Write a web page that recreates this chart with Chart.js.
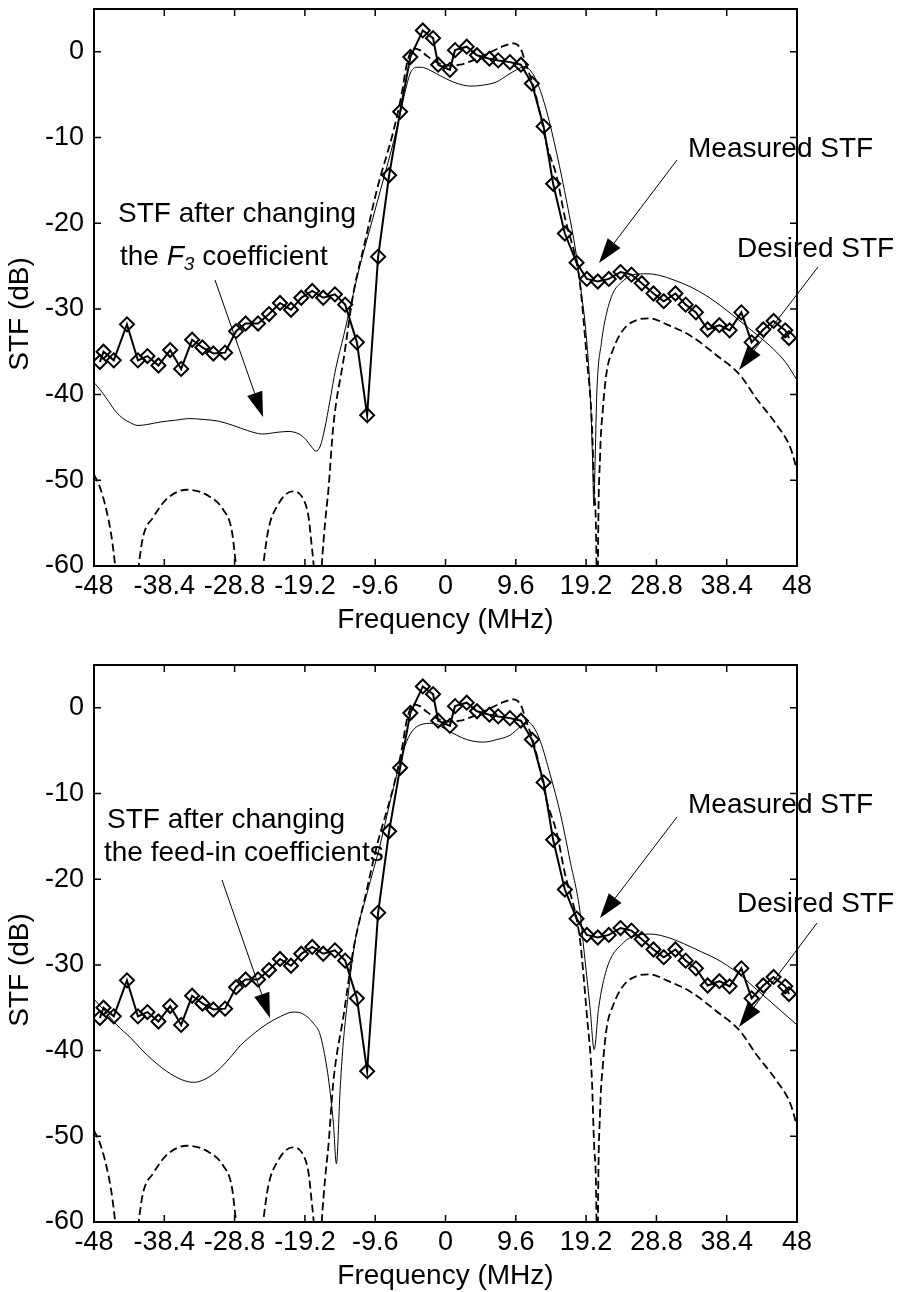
<!DOCTYPE html>
<html>
<head>
<meta charset="utf-8">
<title>STF</title>
<script src="https://cdn.jsdelivr.net/npm/chart.js@4.4.1/dist/chart.umd.min.js"></script>
<style>
  html, body { margin: 0; padding: 0; background: #fff; }
  canvas { display: block; }
</style>
</head>
<body>
<canvas id="topChart" width="902" height="656"></canvas>
<canvas id="bottomChart" width="902" height="636"></canvas>
<script>
// axis ticks
const xTickValues = [-48, -38.4, -28.8, -19.2, -9.6, 0, 9.6, 19.2, 28.8, 38.4, 48];
const xTickLabels = ['-48', '-38.4', '-28.8', '-19.2', '-9.6', '0', '9.6', '19.2', '28.8', '38.4', '48'];
const yTickValues = [-60, -50, -40, -30, -20, -10, 0];
const yTickLabels = ['-60', '-50', '-40', '-30', '-20', '-10', '0'];

// measured STF (diamonds), same in both panels
const measuredFreq = [-47.2, -46.7, -45.3, -43.5, -42.0, -40.7, -39.2, -37.6, -36.1, -34.6, -33.2, -31.7, -30.1, -28.6,
  -27.3, -25.6, -24.1, -22.6, -21.1, -19.7, -18.2, -16.7, -15.1, -13.7, -12.1, -10.7, -9.2, -7.7, -6.2, -4.8, -3.1,
  -1.7, -1.0, 0.6, 1.3, 2.9, 4.3, 6.0, 7.2, 8.8, 10.3, 11.8, 13.4, 14.7, 16.3, 17.9, 19.3, 20.8, 22.3, 23.9, 25.4,
  26.8, 28.4, 29.8, 31.4, 32.8, 34.2, 35.8, 37.4, 38.8, 40.4, 41.8, 43.4, 44.8, 46.4, 46.9];
const measuredStf = [-36.2, -35.0, -36.0, -31.8, -36.0, -35.5, -36.6, -34.8, -37.0, -33.6, -34.5, -35.2, -35.1, -32.6,
  -31.7, -31.7, -30.6, -29.3, -30.1, -28.7, -27.9, -28.7, -28.3, -29.5, -33.9, -42.4, -23.9, -14.4, -7.0, -0.6, 2.5,
  1.6, -1.5, -2.1, 0.2, 0.6, -0.4, -0.8, -1.0, -1.2, -1.5, -3.7, -8.7, -15.4, -21.2, -24.6, -26.5, -26.8, -26.5, -25.7, -26.0,
  -27.0, -28.2, -29.1, -28.2, -29.5, -30.4, -32.4, -31.9, -32.5, -30.4, -33.9, -32.4, -31.4, -32.5, -33.4];

// desired STF (dashed), same in both panels
const desiredFreq = [-48, -47.2, -46.3, -45.6, -45.1, -44.6, -43.5, -42.4, -41.9, -41.3, -39.9, -38.1, -35.3, -32.6,
  -30.3, -29.2, -28.6, -28.1, -26.8, -25.4, -24.9, -24.2, -23.05, -20.9, -19.4, -18.7, -18.3, -18.0, -17.75, -17.45,
  -17.15, -16.9, -16.45, -16.0, -15.3, -13.9, -12.6, -11.0, -9.4, -7.1, -6.0, -5.3, -4.4, -3.5, -2.5, -1.0, 0.5, 2.0,
  4.0, 6.0, 8.0, 9.3, 10.3, 11.0, 12.0, 13.0, 13.8, 15.2, 16.3, 17.9, 18.4, 19.3, 20.0, 20.3, 20.62, 20.72, 20.82,
  21.1, 21.5, 22.0, 22.9, 24.3, 26.1, 27.95, 30.2, 33.4, 37.0, 40.2, 42.4, 45.2, 47.1, 48];
const desiredStf = [-49.3, -50.8, -53.5, -56.6, -60, -64, -75, -64, -60, -56.6, -54.3, -52.2, -51.1, -51.7,
  -53.5, -55.8, -60, -64, -75, -64, -60, -55.8, -53.1, -51.3, -52.2, -54.3, -57.4, -60, -64, -80,
  -64, -60, -55, -51.2, -43.5, -35.8, -28.3, -22.2, -16.2, -9.2, -5.0, -1.5, 0.4, 0.2, -0.5, -1.3, -1.6, -1.5,
  -0.9, -0.1, 0.7, 1.0, 0.3, -1.5, -4.0, -7.5, -10.8, -14.6, -19.3, -24.6, -27.3, -35.8, -43.5, -51.2, -60, -80, -60,
  -47.4, -41.6, -37.4, -34.7, -32.4, -31.3, -31.1, -31.8, -33.1, -35.4, -37.7, -40.4, -43.5, -46.2, -48.8];

// top panel: STF after changing the F3 coefficient (thin)
const f3Freq = [-48, -47, -46, -45, -44, -43, -42, -40.8, -39, -37, -35, -33, -31, -29, -27, -25, -23, -21.5, -20, -19,
  -18.2, -17.7, -17.1, -16.5, -15.8, -15, -13.9, -12.6, -11.7, -10.75, -8.9, -7.1, -6.2, -5.5, -4.8, -4.0, -3.3, -2.0,
  -0.7, 1.0, 2.5, 3.5, 5.0, 7.0, 8.5, 9.7, 10.9, 11.7, 12.5, 13.8, 15.2, 16.6, 17.9, 18.6, 19.1, 19.75, 20.1, 20.25,
  20.45, 20.67, 21.3, 22.0, 22.9, 23.9, 25.7, 27.5, 29.3, 31.1, 33.4, 35.7, 38.0, 40.2, 42.5, 44.8, 46.5, 48];
const f3Stf = [-38.6, -39.6, -40.8, -42.0, -42.8, -43.3, -43.6, -43.5, -43.2, -43.0, -42.8, -42.9, -43.1, -43.6, -44.2,
  -44.6, -44.4, -44.3, -44.6, -45.3, -46.2, -46.6, -46.0, -44.0, -40.8, -37.0, -33.1, -28.3, -25.0, -22.0, -16.2, -10.5,
  -7.3, -4.6, -2.5, -1.8, -1.8, -2.2, -2.8, -3.5, -3.9, -4.0, -3.9, -3.5, -2.7, -2.1, -1.7, -2.3, -3.5, -6.9, -11.9,
  -17.7, -23.9, -28.5, -32.0, -39.7, -48.0, -53.0, -47.0, -39.7, -33.9, -30.5, -28.1, -27.0, -26.0, -25.9, -26.1,
  -26.6, -27.4, -28.5, -29.9, -31.4, -33.0, -34.7, -36.3, -38.3];

// bottom panel: STF after changing the feed-in coefficients (thin)
const feedFreq = [-48, -46.5, -44.9, -43, -41.7, -40, -38.1, -36, -34.4, -33, -31.2, -29.5, -28, -26, -24.4, -22.5,
  -20.8, -19.5, -18.05, -17.1, -16.2, -15.8, -15.3, -14.9, -14.4, -14.0, -13.5, -12.4, -10.7, -8.9, -7.1, -5.3, -3.5,
  -1.7, 0.2, 2.9, 5.2, 7.0, 8.8, 10.2, 11.1, 12.0, 12.95, 14.3, 15.7, 17.0, 18.4, 18.8, 19.75, 20.3, 20.9, 22.0, 24.3,
  26, 28, 30, 32.5, 35, 37, 40, 42, 44, 46, 48];
const feedStf = [-34.0, -35.4, -37.0, -38.5, -39.7, -41.1, -42.4, -43.4, -43.7, -43.4, -42.4, -40.9, -39.4, -37.9, -36.9,
  -36.0, -35.5, -35.7, -36.8, -38.2, -42.0, -44.5, -48.6, -53.2, -44.7, -39.5, -35.1, -27.5, -21.6, -15.9, -9.3, -3.9,
  -2.0, -1.8, -2.6, -3.7, -4.0, -3.7, -3.2, -2.2, -1.6, -2.2, -3.9, -7.8, -12.4, -17.8, -24.0, -27.4, -35.1, -39.9,
  -35.1, -30.5, -27.4, -26.6, -26.4, -26.7, -27.5, -28.5, -29.3, -31.0, -32.5, -34.0, -35.5, -37.0];

const FONT = "'Liberation Sans', Arial, sans-serif";

function zip(xs, ys) {
  return xs.map((x, i) => ({ x: x, y: ys[i] }));
}

function drawArrow(ctx, x1, y1, x2, y2) {
  const ang = Math.atan2(y2 - y1, x2 - x1);
  const len = 25, half = 8;
  const bx = x2 - len * Math.cos(ang);
  const by = y2 - len * Math.sin(ang);
  ctx.lineWidth = 1;
  ctx.beginPath();
  ctx.moveTo(x1, y1);
  ctx.lineTo(bx, by);
  ctx.stroke();
  ctx.beginPath();
  ctx.moveTo(x2, y2);
  ctx.lineTo(bx - half * Math.sin(ang), by + half * Math.cos(ang));
  ctx.lineTo(bx + half * Math.sin(ang), by - half * Math.cos(ang));
  ctx.closePath();
  ctx.fill();
}

// box, inward ticks, axis titles and the text notes
const framePlugin = {
  id: 'frame',
  afterDraw(chart, args, opts) {
    const { ctx, chartArea: a } = chart;
    const xs = chart.scales.x, ys = chart.scales.y;
    ctx.save();
    ctx.fillStyle = '#000';
    ctx.strokeStyle = '#000';

    // notes
    ctx.textBaseline = 'alphabetic';
    ctx.textAlign = 'left';
    (opts.texts || []).forEach(line => {
      let cx = line.x;
      line.parts.forEach(p => {
        const size = p.sub ? 19 : 28;
        ctx.font = (p.it ? 'italic ' : '') + size + 'px ' + FONT;
        ctx.fillText(p.t, cx, line.y + (p.sub ? 5 : 0));
        cx += ctx.measureText(p.t).width;
      });
    });
    (opts.arrows || []).forEach(ar => drawArrow(ctx, ar[0], ar[1], ar[2], ar[3]));

    // axis titles
    ctx.font = '28px ' + FONT;
    ctx.textAlign = 'center';
    ctx.fillText('Frequency (MHz)', (a.left + a.right) / 2, a.bottom + 62);
    ctx.save();
    ctx.translate(28, a.top + 305);
    ctx.rotate(-Math.PI / 2);
    ctx.fillText('STF (dB)', 0, 0);
    ctx.restore();

    // box
    ctx.lineWidth = 2;
    ctx.strokeRect(a.left, a.top, a.right - a.left, a.bottom - a.top);

    // inward ticks on all sides
    const tl = 7;
    ctx.lineWidth = 1.5;
    ctx.beginPath();
    xTickValues.forEach(v => {
      const px = xs.getPixelForValue(v);
      ctx.moveTo(px, a.bottom); ctx.lineTo(px, a.bottom - tl);
      ctx.moveTo(px, a.top); ctx.lineTo(px, a.top + tl);
    });
    yTickValues.forEach(v => {
      const py = ys.getPixelForValue(v);
      ctx.moveTo(a.left, py); ctx.lineTo(a.left + tl, py);
      ctx.moveTo(a.right, py); ctx.lineTo(a.right - tl, py);
    });
    ctx.stroke();
    ctx.restore();
  }
};

function makeChart(canvasId, thinFreq, thinStf, notes) {
  const canvas = document.getElementById(canvasId);
  const xAxisHeight = canvas.height - 4 - 562;
  return new Chart(canvas.getContext('2d'), {
    type: 'line',
    data: {
      datasets: [
        {
          label: 'Measured STF',
          data: zip(measuredFreq, measuredStf),
          borderColor: '#000',
          borderWidth: 2,
          pointStyle: 'rectRot',
          pointRadius: 7,
          pointBorderWidth: 2,
          pointBorderColor: '#000',
          pointBackgroundColor: 'rgba(0,0,0,0)',
          tension: 0
        },
        {
          label: 'Desired STF',
          data: zip(desiredFreq, desiredStf),
          borderColor: '#000',
          borderWidth: 1.8,
          borderDash: [8, 4],
          pointRadius: 0,
          cubicInterpolationMode: 'monotone'
        },
        {
          label: 'Modified STF',
          data: zip(thinFreq, thinStf),
          borderColor: '#000',
          borderWidth: 1,
          pointRadius: 0,
          cubicInterpolationMode: 'monotone'
        }
      ]
    },
    options: {
      responsive: false,
      animation: false,
      events: [],
      layout: { padding: { top: 4, right: 105, left: 0, bottom: 0 } },
      plugins: {
        legend: { display: false },
        tooltip: { enabled: false },
        frame: notes
      },
      scales: {
        x: {
          type: 'linear',
          min: -48,
          max: 48,
          grid: { display: false, drawTicks: false },
          border: { display: false },
          ticks: {
            autoSkip: false,
            minRotation: 0,
            maxRotation: 0,
            padding: 4,
            color: '#000',
            font: { family: FONT, size: 27 },
            callback: v => xTickLabels[xTickValues.indexOf(v)]
          },
          afterBuildTicks: s => { s.ticks = xTickValues.map(v => ({ value: v })); },
          afterFit: s => { s.height = xAxisHeight; s.paddingLeft = 0; s.paddingRight = 0; }
        },
        y: {
          min: -60,
          max: 5,
          grid: { display: false, drawTicks: false },
          border: { display: false },
          ticks: {
            autoSkip: false,
            padding: 10,
            color: '#000',
            font: { family: FONT, size: 27 },
            callback: v => yTickLabels[yTickValues.indexOf(v)]
          },
          afterBuildTicks: s => { s.ticks = yTickValues.map(v => ({ value: v })); },
          afterFit: s => { s.width = 94; s.paddingTop = 0; s.paddingBottom = 0; }
        }
      }
    },
    plugins: [framePlugin]
  });
}

makeChart('topChart', f3Freq, f3Stf, {
  texts: [
    { x: 118, y: 222, parts: [{ t: 'STF after changing' }] },
    { x: 120, y: 265, parts: [{ t: 'the ' }, { t: 'F', it: true }, { t: '3', it: true, sub: true }, { t: ' coefficient' }] },
    { x: 688, y: 157, parts: [{ t: 'Measured STF' }] },
    { x: 737, y: 257, parts: [{ t: 'Desired STF' }] }
  ],
  arrows: [[215, 280, 263, 417], [677, 160, 599, 263], [818, 267, 739, 370]]
});

makeChart('bottomChart', feedFreq, feedStf, {
  texts: [
    { x: 107, y: 172, parts: [{ t: 'STF after changing' }] },
    { x: 104, y: 205, parts: [{ t: 'the feed-in coefficients' }] },
    { x: 688, y: 157, parts: [{ t: 'Measured STF' }] },
    { x: 737, y: 256, parts: [{ t: 'Desired STF' }] }
  ],
  arrows: [[222, 224, 270, 362], [677, 161, 600, 262], [817, 267, 739, 371]]
});
</script>
</body>
</html>
